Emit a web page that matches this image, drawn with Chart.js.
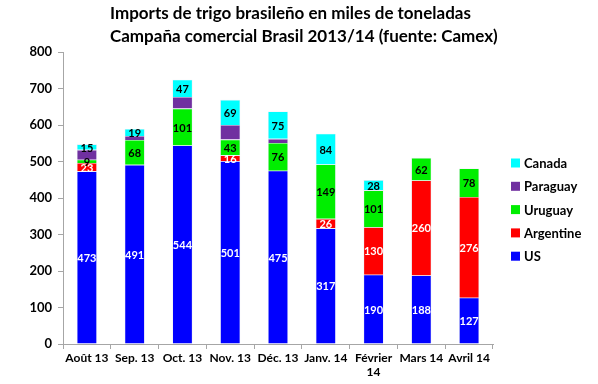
<!DOCTYPE html>
<html>
<head>
<meta charset="utf-8">
<script src="https://cdn.jsdelivr.net/npm/chart.js@4"></script>
<style>
  html, body { margin: 0; padding: 0; background: #fff; }
  #wrap { width: 598px; height: 384px; }
</style>
</head>
<body>
<div id="wrap"><canvas id="c" width="598" height="384"></canvas></div>
<script>
// data (thousands of tonnes)
const months = ['Août 13', 'Sep. 13', 'Oct. 13', 'Nov. 13', 'Déc. 13', 'Janv. 14', ['Février', '14'], 'Mars 14', 'Avril 14'];
const us        = [473, 491, 544, 501, 475, 317, 190, 188, 127];
const argentine = [23, 0, 0, 16, 0, 26, 130, 260, 276];
const uruguay   = [9, 68, 101, 43, 76, 149, 101, 62, 78];
const paraguay  = [27, 11, 32, 40, 11, 0, 0, 0, 0];
const canada    = [15, 19, 47, 69, 75, 84, 28, 0, 0];
const yTicks    = [0, 100, 200, 300, 400, 500, 600, 700, 800];
const titleLines = ['Imports de trigo brasileño en miles de toneladas', 'Campaña comercial Brasil 2013/14 (fuente: Camex)'];

const FONT = 'Lato, "Open Sans", sans-serif';
const AXIS = '#a6a6a6';

const series = [
  { label: 'US',        data: us,        color: '#0000ff', text: '#ffffff', showVal: true },
  { label: 'Argentine', data: argentine, color: '#ff0000', text: '#ffffff', showVal: true },
  { label: 'Uruguay',   data: uruguay,   color: '#00ee00', text: '#000000', showVal: true },
  { label: 'Paraguay',  data: paraguay,  color: '#7030a0', text: '#000000', showVal: false },
  { label: 'Canada',    data: canada,    color: '#00ffff', text: '#000000', showVal: true }
];

// values written inside the segments
const valueLabels = {
  id: 'valueLabels',
  afterDatasetsDraw(chart) {
    const ctx = chart.ctx;
    ctx.save();
    ctx.font = 'bold 11px ' + FONT;
    ctx.textAlign = 'center';
    ctx.textBaseline = 'middle';
    chart.data.datasets.forEach((ds, i) => {
      const s = series[i];
      if (!s.showVal) return;
      chart.getDatasetMeta(i).data.forEach((bar, j) => {
        const v = ds.data[j];
        if (!v) return;
        ctx.fillStyle = s.text;
        ctx.fillText(String(v), bar.x, (bar.y + bar.base) / 2 + 1);
      });
    });
    ctx.restore();
  }
};

// two-line title (left aligned, as in the source) and the legend on the right
const decor = {
  id: 'decor',
  afterDraw(chart) {
    const ctx = chart.ctx;
    ctx.save();
    ctx.fillStyle = '#000';
    ctx.textAlign = 'left';
    ctx.textBaseline = 'middle';
    ctx.font = 'bold 17px ' + FONT;
    ctx.fillText(titleLines[0], 110, 14);
    ctx.fillText(titleLines[1], 110, 37);

    ctx.font = 'bold 13px ' + FONT;
    const order = series.slice().reverse();
    order.forEach((s, k) => {
      const y = 163 + k * 23.3;
      ctx.fillStyle = s.color;
      ctx.fillRect(511, y - 4.5, 9, 9);
      ctx.fillStyle = '#000';
      ctx.fillText(s.label, 524, y + 1);
    });
    ctx.restore();
  }
};

new Chart(document.getElementById('c'), {
  type: 'bar',
  data: {
    labels: months,
    datasets: series.map(s => ({
      label: s.label,
      data: s.data,
      backgroundColor: s.color,
      borderColor: 'rgba(220,225,240,0.9)',
      borderWidth: 0.6,
      barPercentage: 0.42,
      categoryPercentage: 1
    }))
  },
  options: {
    responsive: false,
    animation: false,
    layout: { padding: { top: 52, right: 105, left: 0, bottom: 0 } },
    plugins: {
      legend: { display: false },
      title: { display: false },
      tooltip: { enabled: false }
    },
    scales: {
      x: {
        stacked: true,
        border: { color: AXIS, width: 1 },
        grid: { display: true, drawOnChartArea: false, drawTicks: true, tickLength: 5, color: AXIS, offset: true },
        ticks: { color: '#000', font: { family: FONT, size: 12, weight: 'bold' }, maxRotation: 0, autoSkip: false, padding: 2 },
        afterFit(scale) { scale.height = 40; }
      },
      y: {
        stacked: true,
        min: 0,
        max: 800,
        border: { color: AXIS, width: 1 },
        grid: { display: true, drawOnChartArea: false, drawTicks: true, tickLength: 5, color: AXIS },
        ticks: {
          color: '#000',
          font: { family: FONT, size: 13, weight: 'bold' },
          padding: 6,
          stepSize: 100,
          callback: (v) => yTicks.includes(v) ? String(v) : ''
        },
        afterFit(scale) { scale.width = 63; }
      }
    }
  },
  plugins: [valueLabels, decor]
});
</script>
</body>
</html>
